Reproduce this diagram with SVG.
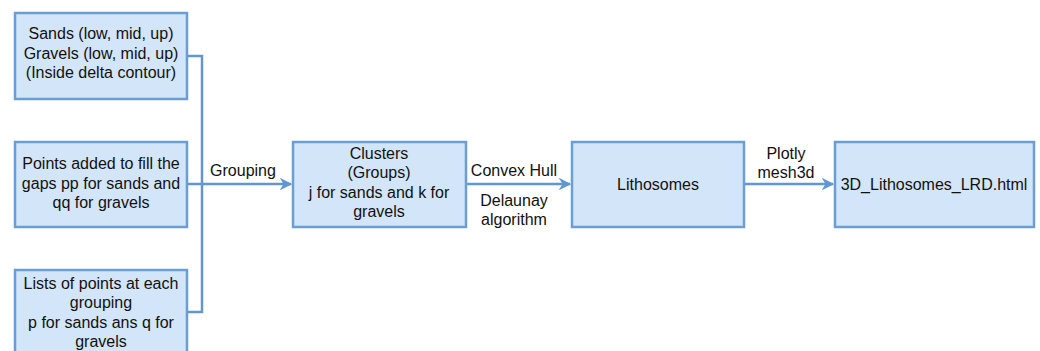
<svg xmlns="http://www.w3.org/2000/svg" width="1040" height="351" viewBox="0 0 1040 351">
  <style>
    .box { fill: #d3e5f8; stroke: #6a9fd3; stroke-width: 2.5; }
    .lbl { font-family: "Liberation Sans", Arial, sans-serif; font-size: 16px; fill: #111; text-anchor: middle; }
    .wire { fill: none; stroke: #5f97d2; stroke-width: 2.5; }
  </style>
  <defs>
    <marker id="arrow" viewBox="0 0 10 10" refX="9" refY="5" markerWidth="5" markerHeight="5" markerUnits="strokeWidth" orient="auto">
      <path d="M0,0 L10,5 L0,10 L3,5 Z" fill="#5f97d2"/>
    </marker>
  </defs>
  <rect width="1040" height="351" fill="#ffffff"/>

  <g id="connectors">
    <polyline class="wire" points="187,56 202,56 202,312 187,312"/>
    <line class="wire" x1="187" y1="184" x2="291" y2="184" marker-end="url(#arrow)"/>
    <line class="wire" x1="466" y1="184" x2="570" y2="184" marker-end="url(#arrow)"/>
    <line class="wire" x1="744" y1="184" x2="833" y2="184" marker-end="url(#arrow)"/>
    <text class="lbl" x="243" y="176">Grouping</text>
    <text class="lbl" x="514" y="176">Convex Hull</text>
    <text class="lbl" x="514" y="206">Delaunay</text>
    <text class="lbl" x="514" y="225">algorithm</text>
    <text class="lbl" x="786" y="159">Plotly</text>
    <text class="lbl" x="786" y="178">mesh3d</text>
  </g>

  <g id="node-sands">
    <rect class="box" x="15" y="13" width="172" height="86"/>
    <text class="lbl" x="101" y="39">Sands (low, mid, up)</text>
    <text class="lbl" x="101" y="59">Gravels (low, mid, up)</text>
    <text class="lbl" x="101" y="78">(Inside delta contour)</text>
  </g>

  <g id="node-points">
    <rect class="box" x="15" y="142" width="172" height="85"/>
    <text class="lbl" x="101" y="169">Points added to fill the</text>
    <text class="lbl" x="101" y="189">gaps pp for sands and</text>
    <text class="lbl" x="101" y="208">qq for gravels</text>
  </g>

  <g id="node-lists">
    <rect class="box" x="15" y="270" width="172" height="86"/>
    <text class="lbl" x="101" y="289">Lists of points at each</text>
    <text class="lbl" x="101" y="308">grouping</text>
    <text class="lbl" x="101" y="328">p for sands ans q for</text>
    <text class="lbl" x="101" y="347">gravels</text>
  </g>

  <g id="node-clusters">
    <rect class="box" x="293" y="142" width="173" height="85"/>
    <text class="lbl" x="379" y="159">Clusters</text>
    <text class="lbl" x="379" y="178">(Groups)</text>
    <text class="lbl" x="379" y="198">j for sands and k for</text>
    <text class="lbl" x="379" y="217">gravels</text>
  </g>

  <g id="node-lithosomes">
    <rect class="box" x="572" y="142" width="172" height="85"/>
    <text class="lbl" x="658" y="190">Lithosomes</text>
  </g>

  <g id="node-html">
    <rect class="box" x="835" y="142" width="199" height="85"/>
    <text class="lbl" x="934" y="190">3D_Lithosomes_LRD.html</text>
  </g>
</svg>
